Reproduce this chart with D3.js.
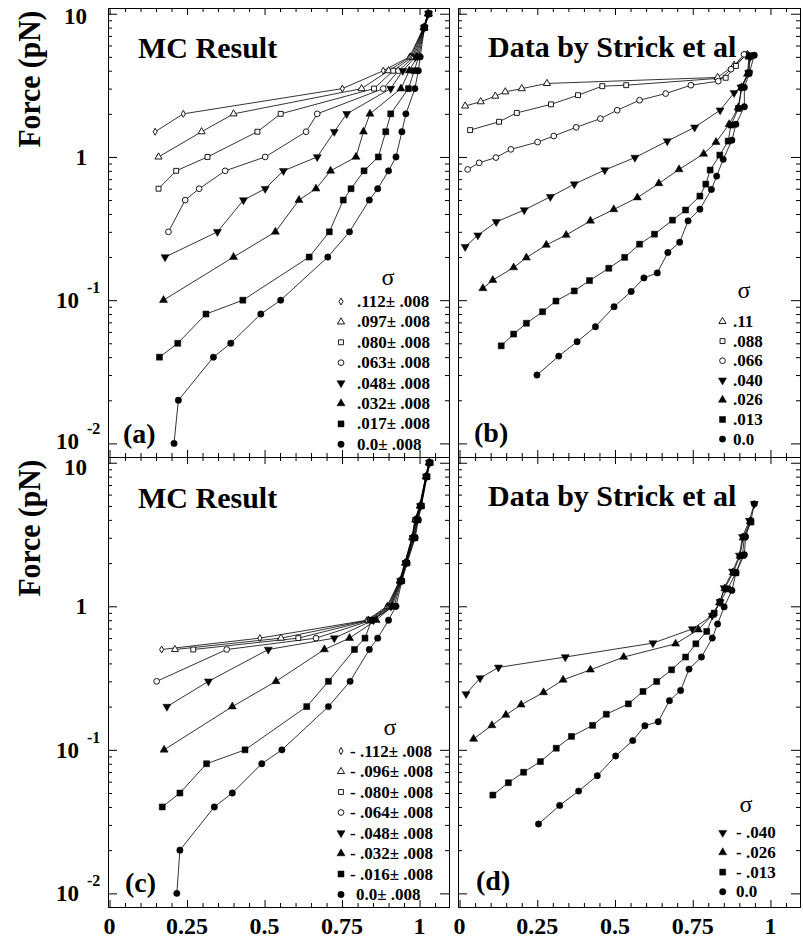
<!DOCTYPE html>
<html>
<head>
<meta charset="utf-8">
<script src="https://cdn.jsdelivr.net/npm/d3@7"></script>
<style>
  body { margin: 0; background: #fff; }
  svg { display: block; }
  svg text { font-family: "Liberation Serif", "DejaVu Serif", "Times New Roman", Times, serif; font-weight: bold; fill: #000; }
</style>
</head>
<body>
<div id="chart"></div>
<script>
// ---- tick labels ----
const xTicks = [0, 0.25, 0.5, 0.75, 1];
const xTickLabels = ["0", "0.25", "0.5", "0.75", "1"];
const yTicks = [10, 1, 0.1, 0.01];
const yTickBase = ["10", "1", "10", "10"];
const yTickExp = ["", "", "-1", "-2"];

// ---- symbols used per series (same order in every panel) ----
const symbolsMC = ["diamond", "triUp", "square", "circle", "triDownF", "triUpF", "squareF", "circleF"];
const symbolsB = ["triUp", "square", "circle", "triDownF", "triUpF", "squareF", "circleF"];
const symbolsD = ["triDownF", "triUpF", "squareF", "circleF"];

// ---- (a) MC result, positive supercoiling ----
const sigmaA = [".112± .008", ".097± .008", ".080± .008", ".063± .008", ".048± .008", ".032± .008", ".017± .008", "0.0± .008"];
const extA = [
  [0.147, 0.238, 0.751, 0.883, 0.968, 1.013, 1.027],
  [0.158, 0.297, 0.40, 0.813, 0.90, 0.972, 1.013, 1.027],
  [0.158, 0.215, 0.316, 0.477, 0.552, 0.853, 0.915, 0.977, 1.014, 1.028],
  [0.19, 0.244, 0.289, 0.373, 0.502, 0.634, 0.67, 0.883, 0.932, 0.982, 1.014, 1.028],
  [0.179, 0.348, 0.432, 0.502, 0.561, 0.67, 0.725, 0.765, 0.907, 0.946, 0.987, 1.015, 1.029],
  [0.174, 0.40, 0.535, 0.611, 0.666, 0.713, 0.795, 0.819, 0.84, 0.94, 0.967, 0.992, 1.015, 1.029],
  [0.161, 0.22, 0.311, 0.43, 0.644, 0.709, 0.754, 0.779, 0.821, 0.867, 0.891, 0.907, 0.964, 0.983, 0.997, 1.016, 1.03],
  [0.208, 0.222, 0.335, 0.391, 0.488, 0.552, 0.704, 0.774, 0.838, 0.865, 0.90, 0.924, 0.943, 0.956, 0.985, 0.996, 1.002, 1.016, 1.03]
];
const forceA = [
  [1.5, 2, 3, 4, 5, 8, 10],
  [1, 1.5, 2, 3, 4, 5, 8, 10],
  [0.6, 0.8, 1, 1.5, 2, 3, 4, 5, 8, 10],
  [0.3, 0.5, 0.6, 0.8, 1, 1.5, 2, 3, 4, 5, 8, 10],
  [0.2, 0.3, 0.5, 0.6, 0.8, 1, 1.5, 2, 3, 4, 5, 8, 10],
  [0.1, 0.2, 0.3, 0.5, 0.6, 0.8, 1, 1.5, 2, 3, 4, 5, 8, 10],
  [0.04, 0.05, 0.08, 0.1, 0.2, 0.3, 0.5, 0.6, 0.8, 1, 1.5, 2, 3, 4, 5, 8, 10],
  [0.01, 0.02, 0.04, 0.05, 0.08, 0.1, 0.2, 0.3, 0.5, 0.6, 0.8, 1, 1.5, 2, 3, 4, 5, 8, 10]
];

// ---- (b) Strick et al, positive supercoiling ----
const sigmaB = [".11", ".088", ".066", ".040", ".026", ".013", "0.0"];
const extB = [
  [0.018, 0.068, 0.115, 0.147, 0.20, 0.281, 0.83, 0.883, 0.926],
  [0.034, 0.127, 0.184, 0.294, 0.381, 0.459, 0.536, 0.856, 0.889, 0.921],
  [0.026, 0.063, 0.117, 0.165, 0.251, 0.303, 0.375, 0.453, 0.507, 0.579, 0.663, 0.744, 0.832, 0.873, 0.915],
  [0.018, 0.059, 0.118, 0.208, 0.292, 0.369, 0.467, 0.564, 0.668, 0.756, 0.838, 0.883, 0.905, 0.93, 0.935],
  [0.075, 0.107, 0.174, 0.215, 0.279, 0.343, 0.421, 0.496, 0.572, 0.641, 0.706, 0.785, 0.825, 0.867, 0.896, 0.907, 0.926, 0.931],
  [0.134, 0.174, 0.215, 0.267, 0.31, 0.369, 0.418, 0.48, 0.531, 0.579, 0.627, 0.685, 0.727, 0.773, 0.792, 0.806, 0.837, 0.864, 0.873, 0.897, 0.908, 0.93, 0.932],
  [0.249, 0.319, 0.378, 0.437, 0.497, 0.552, 0.593, 0.636, 0.67, 0.708, 0.735, 0.773, 0.81, 0.827, 0.848, 0.876, 0.889, 0.916, 0.916, 0.932, 0.948]
];
const forceB = [
  [2.27, 2.43, 2.66, 2.85, 3.0, 3.26, 3.59, 4.37, 5.19],
  [1.54, 1.76, 2.03, 2.33, 2.70, 3.12, 3.17, 3.57, 4.32, 5.2],
  [0.818, 0.91, 0.99, 1.13, 1.27, 1.40, 1.61, 1.85, 2.12, 2.49, 2.77, 3.17, 3.38, 4.1, 5.2],
  [0.236, 0.284, 0.352, 0.426, 0.527, 0.646, 0.81, 0.99, 1.29, 1.61, 2.12, 2.80, 3.06, 3.86, 5.0],
  [0.121, 0.138, 0.169, 0.198, 0.243, 0.285, 0.358, 0.43, 0.52, 0.653, 0.818, 1.05, 1.27, 1.69, 2.21, 3.06, 3.8, 5.0],
  [0.048, 0.058, 0.069, 0.083, 0.0986, 0.116, 0.137, 0.167, 0.199, 0.246, 0.289, 0.362, 0.426, 0.533, 0.646, 0.81, 1.03, 1.29, 1.67, 2.18, 3.06, 3.86, 5.1],
  [0.030, 0.0407, 0.0513, 0.0652, 0.09, 0.115, 0.143, 0.155, 0.215, 0.254, 0.358, 0.432, 0.593, 0.735, 0.962, 1.31, 1.69, 2.24, 3.06, 3.86, 5.13]
];

// ---- (c) MC result, negative supercoiling ----
const sigmaC = ["- .112± .008", "- .096± .008", "- .080± .008", "- .064± .008", "- .048± .008", "- .032± .008", "- .016± .008", "0.0± .008"];
const extC = [
  [0.168, 0.485, 0.83, 0.895, 0.935, 0.952, 0.975, 0.985, 1.0, 1.02, 1.03],
  [0.211, 0.553, 0.835, 0.898, 0.936, 0.953, 0.976, 0.986, 1.001, 1.02, 1.03],
  [0.27, 0.609, 0.84, 0.902, 0.937, 0.954, 0.977, 0.987, 1.002, 1.021, 1.03],
  [0.152, 0.378, 0.666, 0.846, 0.905, 0.938, 0.955, 0.978, 0.988, 1.002, 1.021, 1.031],
  [0.185, 0.319, 0.512, 0.725, 0.851, 0.908, 0.939, 0.956, 0.98, 0.99, 1.003, 1.022, 1.032],
  [0.176, 0.396, 0.537, 0.693, 0.774, 0.86, 0.912, 0.94, 0.957, 0.982, 0.992, 1.004, 1.022, 1.032],
  [0.17, 0.227, 0.313, 0.437, 0.636, 0.706, 0.79, 0.824, 0.845, 0.918, 0.941, 0.958, 0.984, 0.994, 1.005, 1.023, 1.033],
  [0.217, 0.227, 0.338, 0.396, 0.491, 0.556, 0.706, 0.776, 0.838, 0.865, 0.90, 0.924, 0.943, 0.96, 0.986, 0.996, 1.006, 1.024, 1.034]
];
const forceC = [
  [0.5, 0.6, 0.8, 1, 1.5, 2, 3, 4, 5, 8, 10],
  [0.5, 0.6, 0.8, 1, 1.5, 2, 3, 4, 5, 8, 10],
  [0.5, 0.6, 0.8, 1, 1.5, 2, 3, 4, 5, 8, 10],
  [0.3, 0.5, 0.6, 0.8, 1, 1.5, 2, 3, 4, 5, 8, 10],
  [0.2, 0.3, 0.5, 0.6, 0.8, 1, 1.5, 2, 3, 4, 5, 8, 10],
  [0.1, 0.2, 0.3, 0.5, 0.6, 0.8, 1, 1.5, 2, 3, 4, 5, 8, 10],
  [0.04, 0.05, 0.08, 0.1, 0.2, 0.3, 0.5, 0.6, 0.8, 1, 1.5, 2, 3, 4, 5, 8, 10],
  [0.01, 0.02, 0.04, 0.05, 0.08, 0.1, 0.2, 0.3, 0.5, 0.6, 0.8, 1, 1.5, 2, 3, 4, 5, 8, 10]
];

// ---- (d) Strick et al, negative supercoiling ----
const sigmaD = ["- .040", "- .026", "- .013", "0.0"];
const extD = [
  [0.021, 0.066, 0.125, 0.34, 0.622, 0.749, 0.813, 0.838, 0.851, 0.878, 0.9, 0.91, 0.932, 0.948],
  [0.045, 0.104, 0.149, 0.198, 0.27, 0.333, 0.421, 0.528, 0.695, 0.768, 0.813, 0.836, 0.853, 0.88, 0.902, 0.912, 0.935],
  [0.107, 0.157, 0.206, 0.26, 0.311, 0.36, 0.428, 0.472, 0.543, 0.59, 0.634, 0.682, 0.727, 0.76, 0.795, 0.819, 0.838, 0.862, 0.889, 0.91, 0.916, 0.937],
  [0.254, 0.322, 0.383, 0.443, 0.502, 0.557, 0.596, 0.639, 0.675, 0.711, 0.738, 0.778, 0.813, 0.83, 0.851, 0.876, 0.889, 0.916, 0.92, 0.937, 0.948]
];
const forceD = [
  [0.245, 0.316, 0.375, 0.443, 0.554, 0.695, 0.863, 1.07, 1.34, 1.75, 2.26, 3.05, 3.95, 5.17],
  [0.119, 0.148, 0.175, 0.206, 0.251, 0.307, 0.361, 0.443, 0.548, 0.687, 0.87, 1.06, 1.33, 1.72, 2.24, 3.0, 3.9],
  [0.0484, 0.059, 0.0698, 0.0828, 0.1026, 0.124, 0.148, 0.177, 0.209, 0.255, 0.299, 0.361, 0.443, 0.548, 0.668, 0.897, 1.07, 1.32, 1.71, 2.26, 3.05, 3.86],
  [0.0304, 0.041, 0.0516, 0.066, 0.0906, 0.116, 0.147, 0.157, 0.22, 0.259, 0.365, 0.443, 0.601, 0.753, 0.99, 1.29, 1.71, 2.29, 3.05, 3.95, 5.17]
];

// ---- drawing ----
const W = 803, H = 940;
const FONT = "'Liberation Serif', 'DejaVu Serif', 'Times New Roman', Times, serif";
const svg = d3.select("#chart").append("svg")
  .attr("width", W).attr("height", H)
  .attr("font-family", FONT).attr("font-weight", "bold");

const symDefs = {
  diamond:  { type: d3.symbolDiamond,  size: 14, fill: false, rot: 0 },
  triUp:    { type: d3.symbolTriangle, size: 22, fill: false, rot: 0 },
  square:   { type: d3.symbolSquare,   size: 24, fill: false, rot: 0 },
  circle:   { type: d3.symbolCircle,   size: 26, fill: false, rot: 0 },
  triDownF: { type: d3.symbolTriangle, size: 28, fill: true,  rot: 180 },
  triUpF:   { type: d3.symbolTriangle, size: 28, fill: true,  rot: 0 },
  squareF:  { type: d3.symbolSquare,   size: 36, fill: true,  rot: 0 },
  circleF:  { type: d3.symbolCircle,   size: 32, fill: true,  rot: 0 }
};

function drawSymbol(g, name, cx, cy) {
  const s = symDefs[name];
  g.append("path")
    .attr("d", d3.symbol().type(s.type).size(s.size)())
    .attr("transform", `translate(${cx},${cy}) rotate(${s.rot})`)
    .attr("fill", s.fill ? "#000" : "#fff")
    .attr("stroke", "#000")
    .attr("stroke-width", s.fill ? 0.5 : 0.9);
}

function addText(x, y, size, str) {
  return svg.append("text").attr("x", x).attr("y", y)
    .style("font-family", FONT).style("font-weight", "bold")
    .attr("font-size", size).text(str);
}

const panels = [
  { id: "a", left: 108, top: 8,   w: 341, h: 449, ext: extA, force: forceA, syms: symbolsMC, sigma: sigmaA,
    title: "MC Result", titleY: 58, label: "(a)", labelX: 123, labelY: 443,
    leg: { sx: 341, tx: 357, y0: 301.5, dy: 20.4, sigX: 388, sigY: 285 }, yLabels: true, xLabels: false },
  { id: "b", left: 458, top: 8,   w: 342, h: 449, ext: extB, force: forceB, syms: symbolsB, sigma: sigmaB,
    title: "Data by Strick et al", titleY: 57, label: "(b)", labelX: 474, labelY: 442,
    leg: { sx: 722.5, tx: 733, y0: 321.5, dy: 19.6, sigX: 744, sigY: 298 }, yLabels: false, xLabels: false },
  { id: "c", left: 108, top: 457, w: 341, h: 450, ext: extC, force: forceC, syms: symbolsMC, sigma: sigmaC,
    title: "MC Result", titleY: 508, label: "(c)", labelX: 125, labelY: 892,
    leg: { sx: 341, tx: 350, y0: 751, dy: 20.5, sigX: 390, sigY: 735 }, yLabels: true, xLabels: true },
  { id: "d", left: 458, top: 457, w: 342, h: 450, ext: extD, force: forceD, syms: symbolsD, sigma: sigmaD,
    title: "Data by Strick et al", titleY: 506, label: "(d)", labelX: 476, labelY: 890,
    leg: { sx: 722.7, tx: 736, y0: 832.7, dy: 19.7, sigX: 746, sigY: 812 }, yLabels: false, xLabels: true }
];

const xMajor = d3.range(0, 1.0001, 0.25);
const xMinor = d3.range(0, 1.0901, 0.05).filter(v => Math.abs(v / 0.25 - Math.round(v / 0.25)) > 1e-6);
const yMajor = [0.01, 0.1, 1, 10];
const yMinor = [];
[0.01, 0.1, 1].forEach(dec => { for (let k = 2; k <= 9; k++) yMinor.push(dec * k); });

function styleAxis(sel) {
  sel.selectAll("path, line").attr("stroke", "#000").attr("stroke-width", 1);
  sel.selectAll("text").remove();
}

panels.forEach(p => {
  const g = svg.append("g").attr("transform", `translate(${p.left},${p.top})`);
  const x = d3.scaleLinear().domain([-0.005, 1.095]).range([0, p.w]);
  const y = d3.scaleLog().domain([Math.pow(10, -2.095), Math.pow(10, 1.04)]).range([p.h, 0]);

  // frame + inward ticks on all four sides
  const axes = [
    [d3.axisBottom, x, `translate(0,${p.h})`, xMajor, xMinor, 7],
    [d3.axisTop, x, "translate(0,0)", xMajor, xMinor, 7],
    [d3.axisLeft, y, "translate(0,0)", yMajor, yMinor, 9],
    [d3.axisRight, y, `translate(${p.w},0)`, yMajor, yMinor, 9]
  ];
  axes.forEach(([fn, sc, tr, maj, min, len]) => {
    g.append("g").attr("transform", tr)
      .call(fn(sc).tickValues(maj).tickSize(-len).tickSizeOuter(0)).call(styleAxis);
    g.append("g").attr("transform", tr)
      .call(fn(sc).tickValues(min).tickSize(-4).tickSizeOuter(0)).call(styleAxis);
  });

  // lines
  const line = d3.line().x(d => x(d[0])).y(d => y(d[1]));
  p.ext.forEach((ex, i) => {
    g.append("path")
      .attr("d", line(d3.zip(ex, p.force[i])))
      .attr("fill", "none")
      .attr("stroke", "#000")
      .attr("stroke-width", 0.8);
  });
  // points
  p.ext.forEach((ex, i) => {
    d3.zip(ex, p.force[i]).forEach(d => drawSymbol(g, p.syms[i], x(d[0]), y(d[1])));
  });

  // title and panel label
  addText(p.left + 30, p.titleY, 30, p.title);
  addText(p.labelX, p.labelY, 28, p.label);

  // legend
  const L = p.leg;
  addText(L.sigX, L.sigY, 24, "σ").attr("text-anchor", "middle").style("font-weight", "normal");
  p.sigma.forEach((s, i) => {
    const cy = L.y0 + i * L.dy;
    drawSymbol(svg, p.syms[i], L.sx, cy);
    const tx = (p.id === "c" && s.startsWith("0")) ? L.tx + 6 : L.tx;
    addText(tx, cy + 5.5, 17, s);
  });

  // y tick labels
  if (p.yLabels) {
    yTicks.forEach((v, i) => {
      const ty = p.top + y(v);
      // nudge the outermost labels so neighbouring panels' labels do not collide
      const dy = i === 0 ? (p.top > 100 ? 12 : 10) : (i === yTicks.length - 1 && p.top < 100 ? 6 : 8);
      if (yTickExp[i] === "") {
        addText(87, ty + dy, 23, yTickBase[i]).attr("text-anchor", "end");
      } else {
        addText(79, ty + dy, 23, yTickBase[i]).attr("text-anchor", "end");
        addText(87, ty + dy - 15, 16, yTickExp[i]);
      }
    });
    addText(0, 0, 31, "Force (pN)")
      .attr("x", null).attr("y", null)
      .attr("transform", `translate(40,${p.top + 71}) rotate(-90)`)
      .attr("text-anchor", "middle")
      .attr("textLength", 137)
      .attr("lengthAdjust", "spacingAndGlyphs");
  }
  // x tick labels
  if (p.xLabels) {
    xTicks.forEach((v, i) => {
      addText(p.left + x(v), p.top + p.h + 27, 24, xTickLabels[i]).attr("text-anchor", "middle");
    });
  }
});
</script>
</body>
</html>
